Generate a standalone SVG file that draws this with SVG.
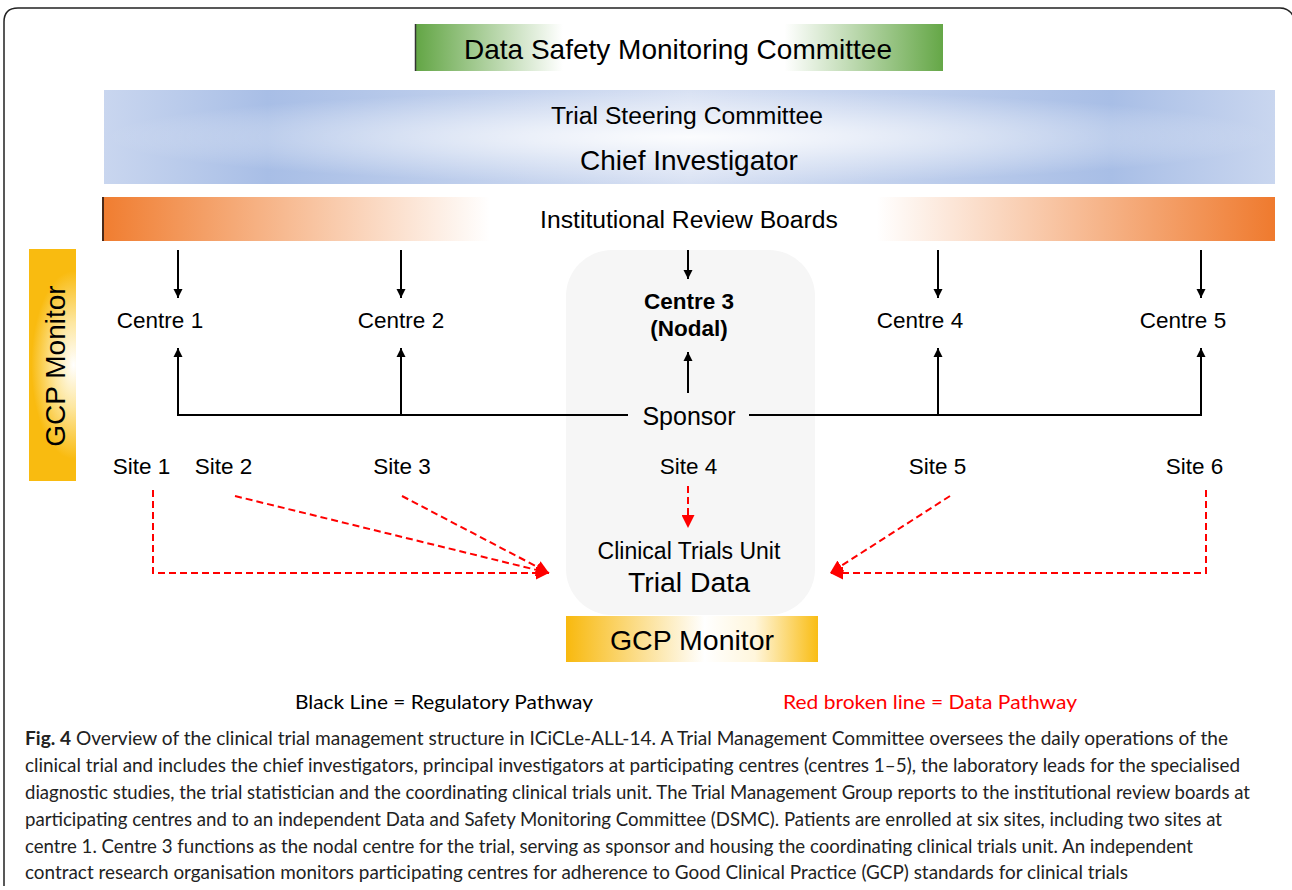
<svg xmlns="http://www.w3.org/2000/svg" width="1292" height="890" viewBox="0 0 1292 890">
<defs>
<style>
.t{font-family:"Liberation Sans",Arial,sans-serif;fill:#000;text-anchor:middle}
.c{font-size:22.5px}
.cap{font-family:Lato,"Open Sans",sans-serif;font-size:19px;fill:#222}
.blk{stroke:#000;stroke-width:2;fill:none}
.red{stroke:#f00;stroke-width:2;fill:none;stroke-dasharray:7,4}
</style>
<linearGradient id="gGreen" x1="0" y1="0" x2="1" y2="0">
<stop offset="0" stop-color="#62a544"/><stop offset="0.28" stop-color="#ffffff"/><stop offset="0.7" stop-color="#ffffff"/><stop offset="1" stop-color="#65a747"/>
</linearGradient>
<linearGradient id="gBlue" x1="0" y1="0" x2="1" y2="0">
<stop offset="0" stop-color="#c9d6ef"/><stop offset="0.14" stop-color="#a8bee6"/><stop offset="0.5" stop-color="#d8e1f3"/><stop offset="0.86" stop-color="#a8bee6"/><stop offset="1" stop-color="#c9d6ef"/>
</linearGradient>
<radialGradient id="gGlow" cx="0.5" cy="0.5" r="0.5">
<stop offset="0" stop-color="#fff" stop-opacity="0.9"/><stop offset="0.6" stop-color="#fff" stop-opacity="0.35"/><stop offset="1" stop-color="#fff" stop-opacity="0"/>
</radialGradient>
<linearGradient id="gOrange" x1="0" y1="0" x2="1" y2="0">
<stop offset="0" stop-color="#f07d30"/><stop offset="0.33" stop-color="#ffffff"/><stop offset="0.66" stop-color="#ffffff"/><stop offset="1" stop-color="#ef7a2e"/>
</linearGradient>
<radialGradient id="gGoldV" cx="0.95" cy="0.5" r="0.9" gradientTransform="translate(0.95 0.5) scale(1 0.45) translate(-0.95 -0.5)">
<stop offset="0" stop-color="#ffffff"/><stop offset="0.45" stop-color="#fde7a0"/><stop offset="1" stop-color="#f9bb10"/>
</radialGradient>
<linearGradient id="gGoldH" x1="0" y1="0" x2="1" y2="0">
<stop offset="0" stop-color="#f8b90e"/><stop offset="0.55" stop-color="#ffffff"/><stop offset="0.75" stop-color="#fff6dc"/><stop offset="1" stop-color="#f9bd14"/>
</linearGradient>
<marker id="ab" viewBox="0 0 10 10" refX="10" refY="5" markerWidth="9" markerHeight="10" markerUnits="userSpaceOnUse" orient="auto">
<path d="M0,0 L10,5 L0,10 z" fill="#000"/>
</marker>
<marker id="ar" viewBox="0 0 10 10" refX="10" refY="5" markerWidth="13" markerHeight="13" markerUnits="userSpaceOnUse" orient="auto">
<path d="M0,0 L10,5 L0,10 z" fill="#f00"/>
</marker>
</defs>
<rect width="1292" height="890" fill="#fff"/>
<path d="M4,886 L4,22 Q4,8 18,8 L1280,8 Q1290,8 1294,18" fill="none" stroke="#222" stroke-width="1.5"/>

<g id="dsmc">
<rect x="415" y="24" width="528" height="47" fill="url(#gGreen)"/>
<line x1="415.5" y1="24" x2="415.5" y2="71" stroke="#333" stroke-width="1.5"/>
<text class="t" x="678" y="59" font-size="28">Data Safety Monitoring Committee</text>
</g>
<g id="tsc">
<rect x="104" y="90" width="1171" height="94" fill="url(#gBlue)"/>
<rect x="104" y="90" width="1171" height="94" fill="url(#gGlow)"/>
<text class="t" x="687" y="124" font-size="24.7">Trial Steering Committee</text>
<text class="t" x="689" y="170" font-size="28">Chief Investigator</text>
</g>
<g id="irb">
<rect x="103" y="197" width="1172" height="44" fill="url(#gOrange)"/>
<line x1="103" y1="197" x2="103" y2="241" stroke="#4a2a1a" stroke-width="2"/>
<text class="t" x="689" y="228" font-size="24.7">Institutional Review Boards</text>
</g>
<g id="gcp-left">
<rect x="29" y="249" width="47" height="232" fill="url(#gGoldV)"/>
<text class="t" x="0" y="0" font-size="28" transform="translate(65,366) rotate(-90)">GCP Monitor</text>
</g>
<g id="centre3-panel">
<rect x="566" y="250" width="249" height="365" rx="46" fill="#f6f6f6"/>
</g>
<g id="gcp-bottom">
<rect x="566" y="616" width="252" height="46" fill="url(#gGoldH)"/>
<text class="t" x="692" y="650" font-size="28.5">GCP Monitor</text>
</g>

<g id="connectors">
<line class="blk" x1="178" y1="250" x2="178" y2="298" marker-end="url(#ab)"/>
<line class="blk" x1="401" y1="250" x2="401" y2="298" marker-end="url(#ab)"/>
<line class="blk" x1="688" y1="250" x2="688" y2="279" marker-end="url(#ab)"/>
<line class="blk" x1="938" y1="250" x2="938" y2="298" marker-end="url(#ab)"/>
<line class="blk" x1="1201" y1="250" x2="1201" y2="298" marker-end="url(#ab)"/>
<path class="blk" d="M628,415 L178,415 L178,348" marker-end="url(#ab)"/>
<line class="blk" x1="401" y1="415" x2="401" y2="348" marker-end="url(#ab)"/>
<path class="blk" d="M749,415 L1201,415 L1201,348" marker-end="url(#ab)"/>
<line class="blk" x1="938" y1="415" x2="938" y2="348" marker-end="url(#ab)"/>
<line class="blk" x1="688" y1="393" x2="688" y2="352" marker-end="url(#ab)"/>
<path class="red" d="M153,490 L153,573 L549,573" marker-end="url(#ar)"/>
<line class="red" x1="235" y1="496" x2="549" y2="573" marker-end="url(#ar)"/>
<line class="red" x1="402" y1="496" x2="549" y2="573" marker-end="url(#ar)"/>
<line class="red" x1="688" y1="486" x2="688" y2="528" marker-end="url(#ar)"/>
<line class="red" x1="950" y1="496" x2="830" y2="573" marker-end="url(#ar)"/>
<path class="red" d="M1206,490 L1206,573 L830,573" marker-end="url(#ar)"/>
</g>

<g id="centre1"><text class="t c" x="160" y="328">Centre 1</text></g>
<g id="centre2"><text class="t c" x="401" y="328">Centre 2</text></g>
<g id="centre3"><text class="t c" x="689" y="309" font-weight="bold">Centre 3</text><text class="t c" x="689" y="336" font-weight="bold">(Nodal)</text></g>
<g id="centre4"><text class="t c" x="920" y="328">Centre 4</text></g>
<g id="centre5"><text class="t c" x="1183" y="328">Centre 5</text></g>
<g id="sponsor"><text class="t" x="689" y="425" font-size="25">Sponsor</text></g>
<g id="site1"><text class="t c" x="141.5" y="474">Site 1</text></g>
<g id="site2"><text class="t c" x="223.5" y="474">Site 2</text></g>
<g id="site3"><text class="t c" x="402" y="474">Site 3</text></g>
<g id="site4"><text class="t c" x="688.5" y="474">Site 4</text></g>
<g id="site5"><text class="t c" x="937.5" y="474">Site 5</text></g>
<g id="site6"><text class="t c" x="1194.5" y="474">Site 6</text></g>
<g id="ctu"><text class="t" x="689" y="559" font-size="23">Clinical Trials Unit</text><text class="t" x="689" y="592" font-size="28.4">Trial Data</text></g>

<g id="legend">
<text x="295" y="709" font-family="Lato,'Open Sans',sans-serif" font-size="19" fill="#000" textLength="298" lengthAdjust="spacingAndGlyphs">Black Line = Regulatory Pathway</text>
<text x="783" y="709" font-family="Lato,'Open Sans',sans-serif" font-size="19" fill="#f00" textLength="294" lengthAdjust="spacingAndGlyphs">Red broken line = Data Pathway</text>
</g>
<g id="caption">
<text class="cap" x="25" y="745" textLength="1203" lengthAdjust="spacingAndGlyphs"><tspan font-weight="bold">Fig. 4</tspan> Overview of the clinical trial management structure in ICiCLe-ALL-14. A Trial Management Committee oversees the daily operations of the</text>
<text class="cap" x="25" y="772" textLength="1215" lengthAdjust="spacingAndGlyphs">clinical trial and includes the chief investigators, principal investigators at participating centres (centres 1–5), the laboratory leads for the specialised</text>
<text class="cap" x="25" y="799" textLength="1225" lengthAdjust="spacingAndGlyphs">diagnostic studies, the trial statistician and the coordinating clinical trials unit. The Trial Management Group reports to the institutional review boards at</text>
<text class="cap" x="25" y="826" textLength="1197" lengthAdjust="spacingAndGlyphs">participating centres and to an independent Data and Safety Monitoring Committee (DSMC). Patients are enrolled at six sites, including two sites at</text>
<text class="cap" x="25" y="853" textLength="1168" lengthAdjust="spacingAndGlyphs">centre 1. Centre 3 functions as the nodal centre for the trial, serving as sponsor and housing the coordinating clinical trials unit. An independent</text>
<text class="cap" x="25" y="879" textLength="1103" lengthAdjust="spacingAndGlyphs">contract research organisation monitors participating centres for adherence to Good Clinical Practice (GCP) standards for clinical trials</text>
</g>
</svg>
